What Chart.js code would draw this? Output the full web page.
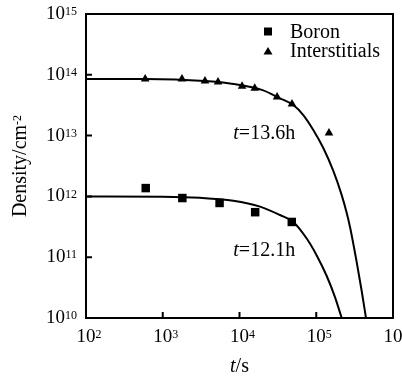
<!DOCTYPE html>
<html>
<head>
<meta charset="utf-8">
<script src="https://cdn.jsdelivr.net/npm/chart.js@4/dist/chart.umd.min.js"></script>
<style>
html, body { margin: 0; padding: 0; background: #fff; }
#wrap { width: 402px; height: 380px; }
</style>
</head>
<body>
<div id="wrap"><canvas id="chart" width="402" height="380"></canvas></div>
<script>
// measured points
const boronTime = [600, 1800, 5500, 16000, 48000];
const boronDensity = [1.37e12, 9.4e11, 7.8e11, 5.5e11, 3.8e11];
const interTime = [590, 1780, 3550, 5250, 10800, 15800, 30900, 48300, 146500];
const interDensity = [8.5e13, 8.5e13, 7.9e13, 7.6e13, 6.5e13, 6.0e13, 4.3e13, 3.3e13, 1.1e13];

// fitted curves
const interFitTime = [100, 590, 3550, 7500, 20000, 33700, 50200, 67800, 91500, 123600, 166800,
    214600, 249500, 275400, 336600, 391000, 444600];
const interFitDensity = [8.5e13, 8.5e13, 7.9e13, 7.2e13, 5.6e13, 4.1e13, 3.18e13, 2.18e13, 1.24e13, 6.25e12, 2.62e12,
    1.05e12, 5.33e11, 3.14e11, 8.3e10, 2.78e10, 1.0e10];
const boronFitTime = [100, 1000, 3050, 8300, 18500, 33700, 49800, 75100, 101400, 136900, 175400, 214600];
const boronFitDensity = [1.0e12, 9.9e11, 9.5e11, 8.5e11, 6.8e11, 4.94e11, 3.84e11, 2.03e11, 1.07e11, 4.91e10, 2.21e10, 1.0e10];

// axes
const xTicks = [1e2, 1e3, 1e4, 1e5, 1e6];
const yTicks = [1e10, 1e11, 1e12, 1e13, 1e14, 1e15];

// curve labels
const fitLabels = ['13.6h', '12.1h'];
const fitLabelAt = [[8300, 1.07e13], [8300, 1.26e11]];

const legendNames = ['Boron', 'Interstitials'];

function pts(xs, ys) {
    return xs.map((v, i) => ({ x: v, y: ys[i] }));
}

const SERIF = '"Liberation Serif", "DejaVu Serif", serif';

function drawPow(ctx, exp, px, py, mode) {
    ctx.font = '19px ' + SERIF;
    const bw = ctx.measureText('10').width;
    ctx.font = '12px ' + SERIF;
    const ew = ctx.measureText(exp).width;
    let x0;
    if (mode === 'right') x0 = px - bw - ew;
    else x0 = px - bw / 2;
    ctx.textAlign = 'left';
    ctx.textBaseline = 'middle';
    ctx.font = '19px ' + SERIF;
    ctx.fillText('10', x0, py);
    ctx.textBaseline = 'top';
    ctx.font = '12px ' + SERIF;
    ctx.fillText(exp, x0 + bw, py - 8);
}

const decorations = {
    id: 'decorations',
    afterDraw(chart) {
        const { ctx, chartArea: a, scales: { x, y } } = chart;
        ctx.save();
        ctx.fillStyle = '#000';
        ctx.strokeStyle = '#000';
        ctx.lineWidth = 2;
        ctx.strokeRect(a.left, a.top, a.right - a.left, a.bottom - a.top);

        // inward tick marks
        ctx.beginPath();
        xTicks.forEach(v => {
            const px = x.getPixelForValue(v);
            ctx.moveTo(px, a.bottom);
            ctx.lineTo(px, a.bottom - 6);
        });
        yTicks.forEach(v => {
            const py = y.getPixelForValue(v);
            ctx.moveTo(a.left, py);
            ctx.lineTo(a.left + 6, py);
        });
        ctx.stroke();

        // tick labels
        xTicks.forEach(v => {
            drawPow(ctx, String(Math.round(Math.log10(v))), x.getPixelForValue(v), a.bottom + 19, 'center');
        });
        yTicks.forEach(v => {
            drawPow(ctx, String(Math.round(Math.log10(v))), a.left - 9, y.getPixelForValue(v), 'right');
        });

        // x title
        ctx.textBaseline = 'middle';
        ctx.textAlign = 'left';
        ctx.font = 'italic 20px ' + SERIF;
        const tw = ctx.measureText('t').width;
        ctx.font = '20px ' + SERIF;
        const sw = ctx.measureText('/s').width;
        const cx = (a.left + a.right) / 2 - (tw + sw) / 2;
        ctx.font = 'italic 20px ' + SERIF;
        ctx.fillText('t', cx, 367);
        ctx.font = '20px ' + SERIF;
        ctx.fillText('/s', cx + tw, 367);

        // y title
        ctx.save();
        ctx.translate(21, (a.top + a.bottom) / 2);
        ctx.rotate(-Math.PI / 2);
        ctx.font = '20px ' + SERIF;
        const mw = ctx.measureText('Density/cm').width;
        ctx.font = '12px ' + SERIF;
        const pw = ctx.measureText('-2').width;
        const sx = -(mw + pw) / 2;
        ctx.font = '20px ' + SERIF;
        ctx.textBaseline = 'middle';
        ctx.fillText('Density/cm', sx, 0);
        ctx.font = '12px ' + SERIF;
        ctx.textBaseline = 'top';
        ctx.fillText('-2', sx + mw, -9);
        ctx.restore();

        // legend
        ctx.textBaseline = 'alphabetic';
        ctx.font = '20px ' + SERIF;
        ctx.fillRect(a.right - 129, 27.5, 8, 8);
        ctx.fillText(legendNames[0], a.right - 103, 38);
        ctx.beginPath();
        ctx.moveTo(a.right - 125, 47);
        ctx.lineTo(a.right - 129.5, 54.5);
        ctx.lineTo(a.right - 120.5, 54.5);
        ctx.closePath();
        ctx.fill();
        ctx.fillText(legendNames[1], a.right - 103, 57);

        // fit labels
        ctx.textBaseline = 'middle';
        fitLabels.forEach((lbl, i) => {
            const px = x.getPixelForValue(fitLabelAt[i][0]);
            const py = y.getPixelForValue(fitLabelAt[i][1]);
            ctx.font = 'italic 20px ' + SERIF;
            ctx.fillText('t', px, py);
            const w = ctx.measureText('t').width;
            ctx.font = '20px ' + SERIF;
            ctx.fillText('=' + lbl, px + w, py);
        });
        ctx.restore();
    }
};

const ctx = document.getElementById('chart').getContext('2d');
new Chart(ctx, {
    type: 'scatter',
    data: {
        datasets: [
            {
                label: 'Boron',
                data: pts(boronTime, boronDensity),
                pointStyle: 'rect',
                pointRadius: 6,
                backgroundColor: '#000',
                borderColor: '#000',
                borderWidth: 0
            },
            {
                label: 'Interstitials',
                data: pts(interTime, interDensity),
                pointStyle: 'triangle',
                pointRadius: 5,
                backgroundColor: '#000',
                borderColor: '#000',
                borderWidth: 0
            },
            {
                label: 'fit 13.6h',
                data: pts(interFitTime, interFitDensity),
                showLine: true,
                pointRadius: 0,
                borderColor: '#000',
                borderWidth: 2,
                cubicInterpolationMode: 'monotone'
            },
            {
                label: 'fit 12.1h',
                data: pts(boronFitTime, boronFitDensity),
                showLine: true,
                pointRadius: 0,
                borderColor: '#000',
                borderWidth: 2,
                cubicInterpolationMode: 'monotone'
            }
        ]
    },
    options: {
        responsive: false,
        animation: false,
        devicePixelRatio: 1,
        layout: { padding: { left: 86, right: 9, top: 14, bottom: 62 } },
        plugins: {
            legend: { display: false },
            tooltip: { enabled: false }
        },
        scales: {
            x: { type: 'logarithmic', min: 1e2, max: 1e6, display: false },
            y: { type: 'logarithmic', min: 1e10, max: 1e15, display: false }
        }
    },
    plugins: [decorations]
});
</script>
</body>
</html>
